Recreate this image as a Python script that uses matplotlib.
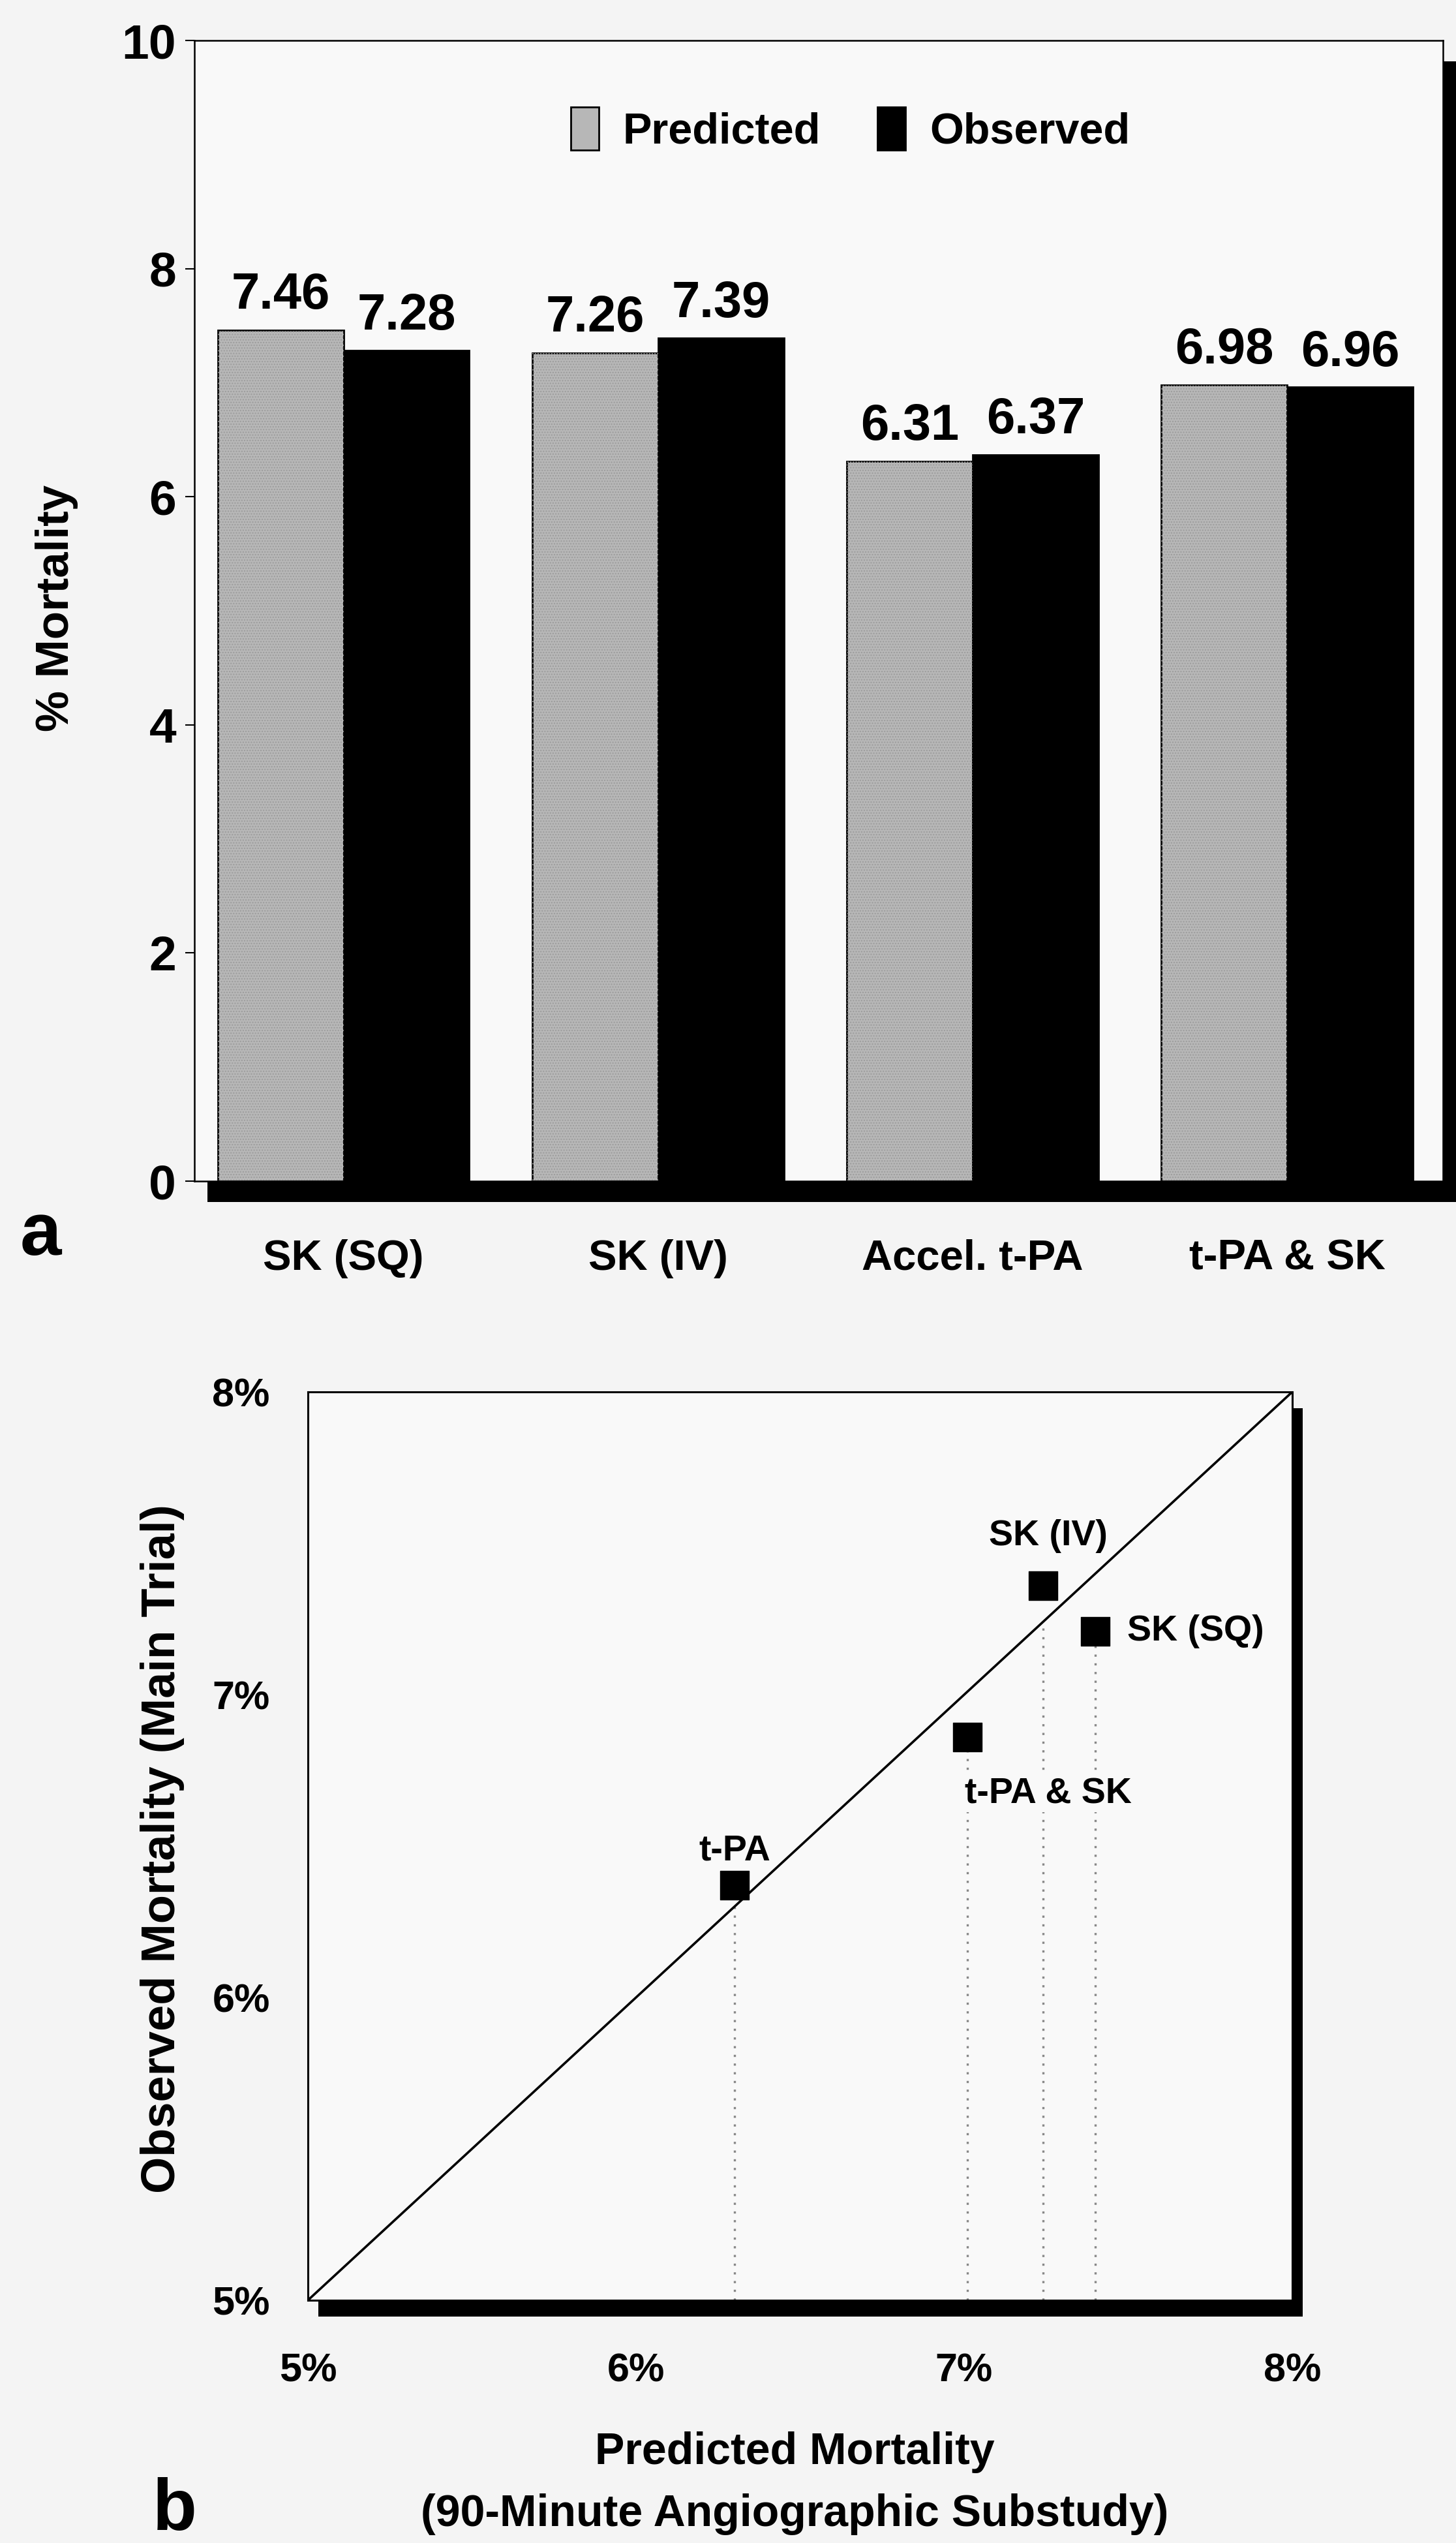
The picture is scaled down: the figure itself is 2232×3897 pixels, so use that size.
import matplotlib
matplotlib.use("Agg")
import matplotlib.pyplot as plt
from matplotlib.patches import Rectangle
import numpy as np

plt.rcParams["font.family"] = ["Liberation Sans", "DejaVu Sans"]
plt.rcParams["font.weight"] = "bold"

# panel a data
categories = ["SK (SQ)", "SK (IV)", "Accel. t-PA", "t-PA & SK"]
predicted = [7.46, 7.26, 6.31, 6.98]
observed = [7.28, 7.39, 6.37, 6.96]

# panel b data
point_names = ["SK (SQ)", "SK (IV)", "t-PA", "t-PA & SK"]
point_pred = [7.40, 7.24, 6.30, 7.01]
point_obs = [7.21, 7.36, 6.37, 6.86]
pct_ticks = [5, 6, 7, 8]

W, H = 2232, 3897
BG = "#f4f4f4"
AX_BG = "#f9f9f9"

fig = plt.figure(figsize=(W / 100, H / 100), dpi=100, facecolor=BG)


def px_box(left, top, right, bottom):
    return [left / W, 1 - bottom / H, (right - left) / W, (bottom - top) / H]


def add_shadow(box, dx, dy):
    x0, y0, w, h = box
    fig.add_artist(Rectangle((x0 + dx / W, y0 - dy / H), w, h,
                             transform=fig.transFigure, facecolor="black",
                             edgecolor="none", zorder=-1))


# ---------------- panel a ----------------
box_a = px_box(298, 62, 2212, 1810)
add_shadow(box_a, 20, 32)
ax = fig.add_axes(box_a, facecolor=AX_BG)

x = np.arange(len(categories))
bw = 0.40
bars_p = ax.bar(x - bw / 2, predicted, bw, color="#b7b7b7", edgecolor="black",
                linewidth=2, label="Predicted", zorder=2)
# stipple texture on the predicted bars
ax.bar(x - bw / 2, predicted, bw, facecolor="none", edgecolor="#9c9c9c",
       hatch="....", linewidth=0, zorder=2.5)
bars_o = ax.bar(x + bw / 2, observed, bw, color="black", edgecolor="black",
                linewidth=2, label="Observed", zorder=2)

for bars, vals in ((bars_p, predicted), (bars_o, observed)):
    for b, v in zip(bars, vals):
        ax.annotate(f"{v:.2f}", xy=(b.get_x() + b.get_width() / 2, v),
                    xytext=(0, 12), textcoords="offset points",
                    ha="center", va="bottom", fontsize=56, fontweight="bold")

ax.set_xlim(-0.474, 3.495)
ax.set_ylim(0, 10)
ax.set_yticks([0, 2, 4, 6, 8, 10])
ax.tick_params(axis="y", labelsize=54, length=10, width=1.5, pad=10)
ax.set_xticks(x)
ax.set_xticklabels(categories)
ax.tick_params(axis="x", labelsize=47, length=0, pad=64)
for s in ax.spines.values():
    s.set_linewidth(1.8)

ax.legend(loc="center left", bbox_to_anchor=(0.27, 0.922), ncol=2,
          frameon=False, fontsize=48, handlelength=0.65, handleheight=1.15,
          handletextpad=0.55, columnspacing=1.3)

fig.text(87 / W, 1 - 932 / H, "% Mortality", rotation=90, ha="center",
         va="center", fontsize=51, fontweight="bold")
fig.text(62 / W, 1 - 1894 / H, "a", ha="center", va="center", fontsize=82,
         fontweight="bold")

# ---------------- panel b ----------------
box_b = px_box(472, 2133, 1981, 3525)
add_shadow(box_b, 16, 25)
bx = fig.add_axes(box_b, facecolor=AX_BG)

bx.plot([5, 8], [5, 8], color="black", linewidth=2.6, zorder=2)
bx.vlines(point_pred, 5, np.minimum(point_pred, point_obs), colors="#888888",
          linestyles=(0, (1, 3)), linewidth=2.4, zorder=1)
bx.scatter(point_pred, point_obs, marker="s", s=31 ** 2, color="black",
           zorder=3)

label_offsets = [(35, 0, "left"), (6, 55, "center"), (0, 38, "center"),
                 (89, -63, "center")]
for name, px_, py_, (ox, oy, ha) in zip(point_names, point_pred, point_obs,
                                         label_offsets):
    bx.annotate(name, xy=(px_, py_), xytext=(ox, oy), textcoords="offset points",
                ha=ha, va="center", fontsize=40, fontweight="bold", zorder=4,
                bbox=dict(facecolor=AX_BG, edgecolor="none", pad=1))

bx.set_xlim(5, 8)
bx.set_ylim(5, 8)
bx.set_xticks(pct_ticks)
bx.set_yticks(pct_ticks)
bx.set_xticklabels([f"{t}%" for t in pct_ticks])
bx.set_yticklabels([f"{t}%" for t in pct_ticks])
bx.tick_params(axis="x", labelsize=44, length=0, pad=58)
bx.tick_params(axis="y", labelsize=44, length=0, pad=42)
for s in bx.spines.values():
    s.set_linewidth(2.2)

fig.text(1218 / W, 1 - 3758 / H, "Predicted Mortality", ha="center",
         va="center", fontsize=49, fontweight="bold")
fig.text(1218 / W, 1 - 3853 / H, "(90-Minute Angiographic Substudy)",
         ha="center", va="center", fontsize=49, fontweight="bold")
fig.text(249 / W, 1 - 2833 / H, "Observed Mortality (Main Trial)",
         rotation=90, ha="center", va="center", fontsize=52,
         fontweight="bold")
fig.text(268 / W, 1 - 3848 / H, "b", ha="center", va="center", fontsize=80,
         fontweight="bold")

fig.savefig("out.png", dpi=100, facecolor=BG)
plt.close(fig)
